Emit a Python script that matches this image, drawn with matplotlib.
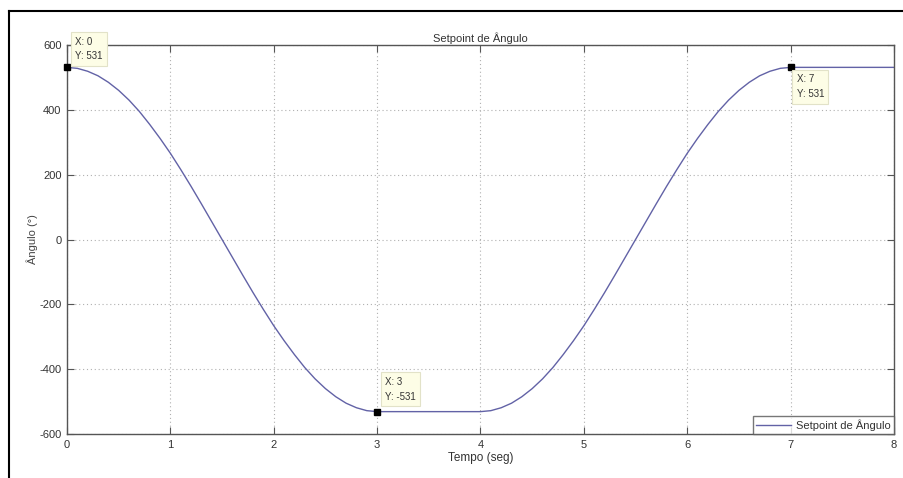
import matplotlib
matplotlib.use("Agg")
import matplotlib.pyplot as plt
from matplotlib.lines import Line2D

plt.rcParams['font.family'] = ['Liberation Sans', 'DejaVu Sans']
plt.rcParams['axes.unicode_minus'] = False

# Time (s) and setpoint angle (deg)
t_fall = [0.0, 0.1, 0.2, 0.3, 0.4, 0.5, 0.6, 0.7, 0.8, 0.9, 1.0, 1.1, 1.2, 1.3, 1.4, 1.5,
          1.6, 1.7, 1.8, 1.9, 2.0, 2.1, 2.2, 2.3, 2.4, 2.5, 2.6, 2.7, 2.8, 2.9, 3.0]
a_fall = [531, 528, 519, 505, 485, 460, 430, 395, 355, 312, 266, 216, 164, 110, 55, 0,
          -55, -110, -164, -216, -266, -312, -355, -395, -430, -460, -485, -505, -519, -528, -531]
t_rise = [4.0, 4.1, 4.2, 4.3, 4.4, 4.5, 4.6, 4.7, 4.8, 4.9, 5.0, 5.1, 5.2, 5.3, 5.4, 5.5,
          5.6, 5.7, 5.8, 5.9, 6.0, 6.1, 6.2, 6.3, 6.4, 6.5, 6.6, 6.7, 6.8, 6.9, 7.0]
a_rise = [-531, -528, -519, -505, -485, -460, -430, -395, -355, -312, -266, -216, -164, -110, -55, 0,
          55, 110, 164, 216, 266, 312, 355, 395, 430, 460, 485, 505, 519, 528, 531]
t_end = [8.0]
a_end = [531]

time = t_fall + t_rise + t_end
angle = a_fall + a_rise + a_end

tip_x = [0, 3, 7]
tip_y = [531, -531, 531]

xticks = [0, 1, 2, 3, 4, 5, 6, 7, 8]
yticks = [-600, -400, -200, 0, 200, 400, 600]

title = "Setpoint de Ângulo"
xlabel = "Tempo (seg)"
ylabel = "Ângulo (°)"
legend_label = "Setpoint de Ângulo"

W, H = 904, 478
fig = plt.figure(figsize=(W / 100, H / 100), dpi=100)
fig.patch.set_facecolor('white')
L, R, T, B = 67, 894, 45, 434
ax = fig.add_axes([L / W, 1 - B / H, (R - L) / W, (B - T) / H])

line_color = '#6262a6'
ax.plot(time, angle, color=line_color, lw=1.0, label=legend_label)

ax.set_xlim(0, 8)
ax.set_ylim(-600, 600)
ax.set_xticks(xticks)
ax.set_yticks(yticks)
ax.grid(True, linestyle=(0, (1, 2.5)), color='#b0b0b0', lw=0.8)
ax.tick_params(direction='in', length=5, top=True, right=True, labelsize=8,
               colors='#555555', labelcolor='#333333', pad=4)
for s in ax.spines.values():
    s.set_color('#555555')
    s.set_linewidth(1.0)

ax.set_title(title, fontsize=8, color='#333333', pad=2)
ax.set_xlabel(xlabel, fontsize=8.5, color='#333333', labelpad=2)
ax.set_ylabel(ylabel, fontsize=8, color='#444444')
ax.yaxis.set_label_coords((38 - L) / (R - L), 0.5)

# data tips
ax.plot(tip_x, tip_y, 's', color='black', ms=5, zorder=5, clip_on=False)
tip_offsets = [((8, 6), 'bottom'), ((8, 10), 'bottom'), ((6, -7), 'top')]
for x, y, (off, va) in zip(tip_x, tip_y, tip_offsets):
    ax.annotate(f"X: {x}\nY: {y}", xy=(x, y), xytext=off, textcoords='offset pixels',
                ha='left', va=va, fontsize=7, color='#333333', linespacing=1.6,
                bbox=dict(boxstyle='square,pad=0.45', fc='#fdfde6', ec='#e2e2c8', lw=0.8),
                zorder=6, annotation_clip=False)

leg = ax.legend(loc='lower right', fontsize=8, frameon=True, fancybox=False,
                borderaxespad=0, handlelength=3.2, borderpad=0.3, handletextpad=0.4)
leg.get_frame().set_edgecolor('#555555')
leg.get_frame().set_linewidth(1.0)
for txt in leg.get_texts():
    txt.set_color('#333333')

# screenshot frame (left and top edges)
fig.add_artist(Line2D([9 / W, 9 / W], [0, 1 - 11 / H], color='black', lw=1.5,
                      transform=fig.transFigure))
fig.add_artist(Line2D([9 / W, 1], [1 - 11 / H, 1 - 11 / H], color='black', lw=1.5,
                      transform=fig.transFigure))

fig.savefig('out.png', dpi=100)
